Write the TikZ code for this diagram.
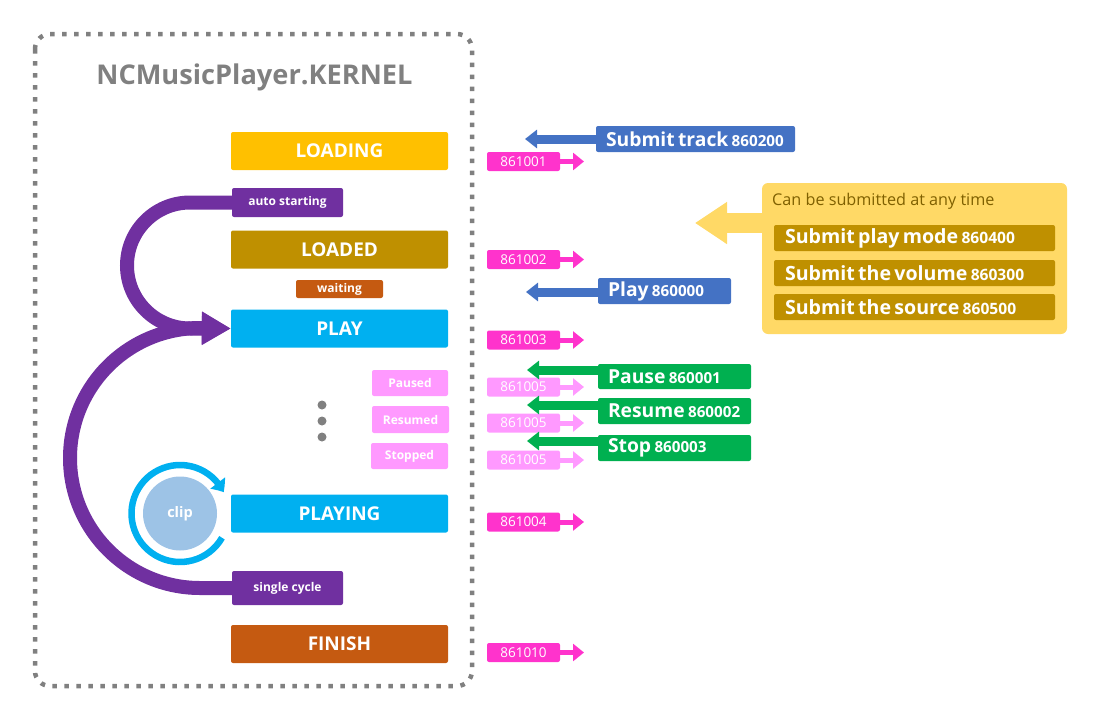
\documentclass[tikz,border=0pt]{standalone}
\usepackage{fontspec}
\setmainfont{Open Sans}
\usetikzlibrary{arrows.meta,bending}
\definecolor{cyellow}{HTML}{FFC000}
\definecolor{cgold}{HTML}{BF9000}
\definecolor{corange}{HTML}{C55A11}
\definecolor{ccyan}{HTML}{00B0F0}
\definecolor{cpurple}{HTML}{7030A0}
\definecolor{clpink}{HTML}{FF99FF}
\definecolor{cmag}{HTML}{FF33CC}
\definecolor{cnavy}{HTML}{4472C4}
\definecolor{cgreen}{HTML}{00B050}
\definecolor{clight}{HTML}{FFD966}
\definecolor{cclip}{HTML}{9DC3E6}
\definecolor{cgray}{HTML}{808080}
\definecolor{cbrown}{HTML}{7F6000}
\newcommand{\myfs}[1]{\fontsize{#1}{#1}\selectfont}
\begin{document}
\begin{tikzpicture}[x=1pt,y=-1pt,
 st/.style={rounded corners=2pt, inner sep=0pt, text=white, font=\myfs{19}\bfseries, minimum width=217pt, minimum height=38pt},
 lab/.style={rounded corners=2pt, inner sep=0pt, text=white, font=\myfs{12}\bfseries},
 sub/.style={rounded corners=2pt, inner sep=0pt, text=white, font=\myfs{12}\bfseries, fill=clpink},
 tag/.style={rounded corners=2pt, inner sep=0pt, text=white, font=\myfs{13.5}, minimum width=73pt, minimum height=19pt, fill=cmag},
 tagarr/.style={line width=5pt, -{Triangle[length=11pt,width=17pt]}, draw=cmag},
 cmd/.style={rounded corners=2pt, inner xsep=10pt, inner ysep=0pt, text=white, align=left, minimum height=26pt},
 cmdarr/.style={line width=9pt, -{Triangle[length=12pt,width=18pt]}},
 purp/.style={draw=cpurple, line width=14pt, -{Triangle[length=29pt,width=31pt]}},
]
\useasboundingbox (0,0) rectangle (1100,720);
% frame
\draw[cgray, line width=4.5pt, dash pattern=on 4.5pt off 7.5pt, rounded corners=15pt] (35,34) rectangle (472,686);
\node[anchor=base, text=cgray, font=\myfs{27.2}\bfseries] (title) at (254.5,84) {NCMusicPlayer.KERNEL};
% states
\node[st, fill=cyellow] (loading) at (339.5,151) {LOADING};
\node[lab, fill=cpurple, minimum width=111pt, minimum height=29pt] (autost) at (287.5,202.5) {auto starting};
\node[st, fill=cgold] (loaded) at (339.5,249.5) {LOADED};
\node[lab, fill=corange, minimum width=87pt, minimum height=18pt] (waiting) at (339.5,289) {waiting};
\node[st, fill=ccyan] (play) at (339.5,328.5) {PLAY};
\node[sub, minimum width=76pt, minimum height=26pt] (paused) at (410,383) {Paused};
\node[sub, minimum width=77pt, minimum height=27pt] (resumed) at (410.5,419.5) {Resumed};
\node[sub, minimum width=77pt, minimum height=26pt] (stopped) at (409.5,456) {Stopped};
\fill[cgray] (322,405) circle (4.5) (322,421) circle (4.5) (322,437) circle (4.5);
\node[st, fill=ccyan] (playing) at (339.5,513.5) {PLAYING};
\node[lab, fill=cpurple, minimum width=111pt, minimum height=34pt] (single) at (287.5,588) {single cycle};
\node[st, fill=corange] (finish) at (339.5,644) {FINISH};
% clip
\node[circle, fill=cclip, minimum size=74pt, inner sep=0pt, text=white, font=\myfs{14.5}\bfseries] (clip) at (180,513.5) {clip};
\draw[ccyan, line width=6.5pt, -{Triangle[length=11pt,width=18pt,bend]}] (clip.center) ++(30:48.5) arc[start angle=30, end angle=334, radius=48.5];
% purple loops
\draw[purp] (autost.west) -- (190,202.5) arc[start angle=-90, end angle=-270, radius=63] -- (play.west);
\draw[purp] (single.west) -- (200,588) arc[start angle=90, end angle=270, radius=130] -- (play.west);
% tags
\foreach \n/\y in {1/161.5, 2/259.5, 3/340, 4/522, 10/652.5, 5a/387, 5b/423, 5c/460}{
  \coordinate (te\n) at (584,\y);
}
\node[tag] (t1) at (523.5,161.5) {861001};
\node[tag] (t2) at (523.5,259.5) {861002};
\node[tag] (t3) at (523.5,340) {861003};
\node[tag, fill=clpink] (t5a) at (523.5,387) {861005};
\node[tag, fill=clpink] (t5b) at (523.5,423) {861005};
\node[tag, fill=clpink] (t5c) at (523.5,460) {861005};
\node[tag] (t4) at (523.5,522) {861004};
\node[tag] (t10) at (523.5,652.5) {861010};
\foreach \n in {1,2,3,4,10}{\draw[tagarr] (t\n.east) ++(-2,0) -- (te\n);}
\foreach \n in {5a,5b,5c}{\draw[tagarr, draw=clpink] (t\n.east) ++(-2,0) -- (te\n);}
% commands
\node[cmd, fill=cnavy, text width=179pt] (submit) at (695.5,139) {\textbf{\myfs{19.3}Submit track} \textbf{\myfs{15.2}860200}};
\node[cmd, fill=cnavy, text width=113pt] (playc) at (664.5,291) {\textbf{\myfs{19.3}Play} \textbf{\myfs{15.2}860000}};
\node[cmd, fill=cgreen, text width=133pt, minimum height=25pt] (pause) at (674.5,376.5) {\textbf{\myfs{19.3}Pause} \textbf{\myfs{15.2}860001}};
\node[cmd, fill=cgreen, text width=133pt] (resume) at (674.5,411) {\textbf{\myfs{19.3}Resume} \textbf{\myfs{15.2}860002}};
\node[cmd, fill=cgreen, text width=133pt] (stop) at (674.5,448) {\textbf{\myfs{19.3}Stop} \textbf{\myfs{15.2}860003}};
\coordinate (a1) at (525,139);
\coordinate (a2) at (526,292);
\coordinate (a3) at (527,370);
\coordinate (a4) at (527,405);
\coordinate (a5) at (527,441);
\draw[cmdarr, cnavy] (submit.west) -- (a1);
\draw[cmdarr, cnavy] (playc.west |- a2) -- (a2);
\draw[cmdarr, cgreen] (pause.west |- a3) -- (a3);
\draw[cmdarr, cgreen] (resume.west |- a4) -- (a4);
\draw[cmdarr, cgreen] (stop.west |- a5) -- (a5);
% any time box
\node[fill=clight, rounded corners=6pt, minimum width=305pt, minimum height=151pt, inner sep=0pt] (ybox) at (914.5,258.5) {};
\node[anchor=base west, text=cbrown, font=\myfs{16.2}, inner sep=0pt] (ytext) at (772,205) {Can be submitted at any time};
\node[cmd, fill=cgold, text width=259pt, inner xsep=11pt] (mode) at (914.5,238) {\textbf{\myfs{19.6}Submit play mode} \textbf{\myfs{15.6}860400}};
\node[cmd, fill=cgold, text width=259pt, inner xsep=11pt] (volume) at (914.5,273) {\textbf{\myfs{19.6}Submit the volume} \textbf{\myfs{15.6}860300}};
\node[cmd, fill=cgold, text width=259pt, inner xsep=11pt] (source) at (914.5,307) {\textbf{\myfs{19.6}Submit the source} \textbf{\myfs{15.6}860500}};
\coordinate (ya) at (695,223);
\draw[clight, line width=20pt, -{Triangle[length=32pt,width=40pt]}] (ybox.west |- ya) -- (ya);
\end{tikzpicture}
\end{document}
